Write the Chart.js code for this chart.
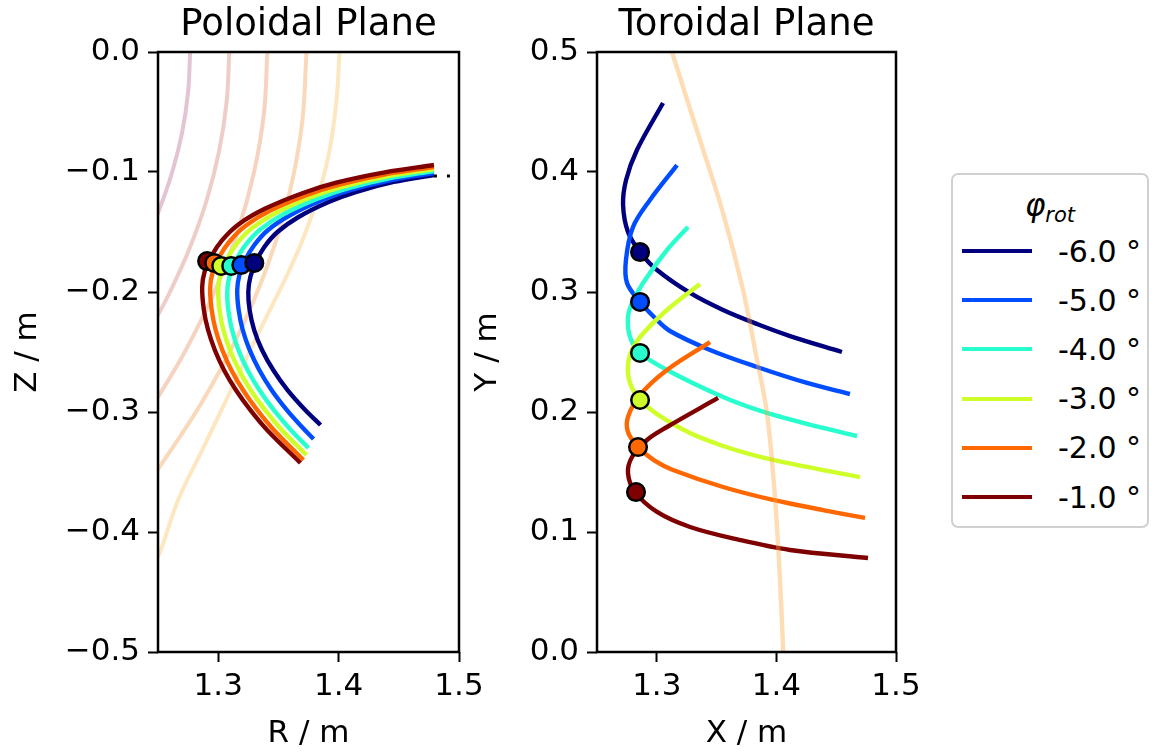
<!DOCTYPE html>
<html>
<head>
<meta charset="utf-8">
<script src="https://cdn.jsdelivr.net/npm/chart.js@4.4.1/dist/chart.umd.min.js"></script>
<style>
  body { margin: 0; background: #fff; width: 1160px; height: 756px; overflow: hidden; position: relative; font-family: 'DejaVu Sans', sans-serif; }
  canvas { position: absolute; top: 0; }
  #polCanvas { left: 0; }
  #torCanvas { left: 460px; }
  .legend { position: absolute; left: 951px; top: 173px; width: 194px; height: 351px; border: 2px solid #d0d0d0; border-radius: 7px; background: rgba(255,255,255,0.8); }
  .legend .ttl { position: absolute; left: 0; width: 100%; top: 12px; text-align: center; font-size: 31px; font-style: italic; color: #000; }
  .legend .ttl sub { font-size: 21px; vertical-align: -6px; }
  .legend .row { position: absolute; left: 0; height: 40px; display: flex; align-items: center; }
  .legend .sw { margin-left: 9px; width: 70px; height: 4px; }
  .legend .lbl { margin-left: 26px; font-size: 30px; color: #000; }
</style>
</head>
<body>
<canvas id="polCanvas" width="490" height="756"></canvas>
<canvas id="torCanvas" width="480" height="756"></canvas>
<div class="legend" id="legend"></div>
<script>
// rotation angles (legend order) and their jet colours
const angles = [-6, -5, -4, -3, -2, -1];
const jetColors = ['#00007f', '#004cff', '#29ffce', '#ceff29', '#ff6800', '#7f0000'];

// ticks
const rTicks = [1.3, 1.4, 1.5];
const zTicks = [0.0, -0.1, -0.2, -0.3, -0.4, -0.5];
const yTicks = [0.0, 0.1, 0.2, 0.3, 0.4, 0.5];

// poloidal plane trajectories (R, Z)
const polR_6 = [1.4792, 1.4458, 1.4142, 1.3917, 1.3667, 1.3492, 1.3383, 1.3313, 1.3267, 1.325, 1.3261, 1.3299, 1.3364, 1.3457, 1.3576, 1.3723, 1.385];
const polZ_6 = [-0.1025, -0.1083, -0.1167, -0.125, -0.1375, -0.15, -0.1625, -0.175, -0.1875, -0.2, -0.215, -0.2317, -0.2483, -0.265, -0.2817, -0.2983, -0.3108];
const polR_5 = [1.4792, 1.4438, 1.4103, 1.3865, 1.36, 1.3414, 1.33, 1.3224, 1.3176, 1.3158, 1.317, 1.3204, 1.3261, 1.3341, 1.3443, 1.3569, 1.368, 1.3792];
const polZ_5 = [-0.1008, -0.1067, -0.115, -0.1233, -0.1358, -0.1483, -0.1608, -0.1733, -0.1858, -0.1983, -0.215, -0.2317, -0.2483, -0.265, -0.2817, -0.2983, -0.3108, -0.3225];
const polR_4 = [1.4792, 1.4421, 1.4068, 1.3818, 1.3539, 1.3344, 1.3223, 1.3145, 1.3093, 1.3075, 1.3084, 1.3115, 1.3168, 1.3244, 1.3342, 1.3461, 1.3603, 1.375];
const polZ_4 = [-0.0992, -0.1053, -0.1138, -0.1224, -0.1353, -0.1483, -0.1613, -0.1742, -0.1871, -0.2, -0.215, -0.2317, -0.2483, -0.265, -0.2817, -0.2983, -0.315, -0.33];
const polR_3 = [1.4792, 1.4404, 1.4037, 1.3775, 1.3484, 1.3281, 1.3155, 1.3073, 1.3019, 1.3, 1.3011, 1.3043, 1.3097, 1.3173, 1.3269, 1.3388, 1.3528, 1.3733];
const polZ_3 = [-0.0975, -0.1036, -0.1122, -0.1208, -0.1337, -0.1467, -0.1596, -0.1725, -0.1854, -0.1983, -0.215, -0.2317, -0.2483, -0.265, -0.2817, -0.2983, -0.315, -0.3358];
const polR_2 = [1.4792, 1.439, 1.4008, 1.3737, 1.3436, 1.3225, 1.3094, 1.3008, 1.2953, 1.2933, 1.2946, 1.2979, 1.3034, 1.3109, 1.3206, 1.3323, 1.3462, 1.3708];
const polZ_2 = [-0.0958, -0.1019, -0.1105, -0.1191, -0.132, -0.145, -0.1579, -0.1708, -0.1838, -0.1967, -0.215, -0.2317, -0.2483, -0.265, -0.2817, -0.2983, -0.315, -0.34];
const polR_1 = [1.4792, 1.4383, 1.398, 1.3699, 1.3387, 1.3168, 1.3033, 1.2945, 1.2888, 1.2867, 1.2881, 1.2916, 1.2972, 1.3048, 1.3147, 1.3266, 1.3406, 1.3683];
const polZ_1 = [-0.0942, -0.1003, -0.1089, -0.1177, -0.1307, -0.1437, -0.1568, -0.1698, -0.1828, -0.1958, -0.215, -0.2317, -0.2483, -0.265, -0.2817, -0.2983, -0.315, -0.3425];
const polMarkR = [1.33, 1.3192, 1.3108, 1.3025, 1.2967, 1.2908];
const polMarkZ = [-0.1758, -0.1775, -0.1783, -0.1783, -0.1758, -0.1742];
// dotted continuation at the tip
const tipR = [1.4792, 1.52];
const tipZ = [-0.1033, -0.1033];

// flux surfaces in the poloidal plane
const fluxR1 = [1.2767, 1.275, 1.2701, 1.2618, 1.2503, 1.2393];
const fluxZ1 = [0.0, -0.0333, -0.0667, -0.1, -0.1333, -0.1583];
const fluxR2 = [1.3092, 1.307, 1.3006, 1.29, 1.275, 1.2599, 1.25, 1.2373];
const fluxZ2 = [0.0, -0.0417, -0.0833, -0.125, -0.1667, -0.2, -0.2192, -0.2417];
const fluxR3 = [1.3408, 1.3381, 1.3298, 1.3161, 1.2968, 1.2722, 1.25, 1.2363];
const fluxZ3 = [0.0, -0.05, -0.1, -0.15, -0.2, -0.25, -0.2875, -0.3083];
const fluxR4 = [1.3733, 1.3698, 1.3594, 1.342, 1.3178, 1.2866, 1.2496, 1.2362];
const fluxZ4 = [0.0, -0.0583, -0.1167, -0.175, -0.2333, -0.2917, -0.3483, -0.3667];
const fluxR5 = [1.4008, 1.3983, 1.3925, 1.3833, 1.3717, 1.3592, 1.345, 1.3267, 1.3067, 1.2867, 1.2667, 1.2517, 1.2433];
const fluxZ5 = [0.0, -0.04, -0.0817, -0.1192, -0.1525, -0.1817, -0.2108, -0.2483, -0.29, -0.3317, -0.3733, -0.4167, -0.4342];

// toroidal plane trajectories (X, Y)
const torX_6 = [1.3052, 1.2834, 1.2743, 1.2718, 1.2759, 1.286, 1.3002, 1.3278, 1.3554, 1.3838, 1.4114, 1.4548];
const torY_6 = [0.4575, 0.4183, 0.3933, 0.3725, 0.35, 0.3333, 0.3183, 0.2992, 0.285, 0.2733, 0.2633, 0.25];
const torX_5 = [1.3169, 1.2943, 1.2801, 1.2742, 1.2751, 1.286, 1.2985, 1.311, 1.3445, 1.3838, 1.4256, 1.4615];
const torY_5 = [0.4058, 0.3767, 0.3542, 0.3267, 0.3075, 0.2917, 0.2783, 0.2675, 0.2517, 0.2375, 0.2242, 0.215];
const torX_4 = [1.3261, 1.3085, 1.2885, 1.2793, 1.2759, 1.2776, 1.286, 1.3085, 1.3554, 1.3921, 1.439, 1.4674];
const torY_4 = [0.3542, 0.335, 0.3075, 0.2908, 0.2792, 0.2625, 0.2492, 0.235, 0.2125, 0.1992, 0.1867, 0.18];
const torX_3 = [1.3361, 1.3085, 1.286, 1.2776, 1.2759, 1.2793, 1.286, 1.3002, 1.3278, 1.3554, 1.3838, 1.4256, 1.4699];
const torY_3 = [0.3067, 0.285, 0.2625, 0.2475, 0.2325, 0.22, 0.21, 0.1983, 0.1825, 0.1717, 0.1633, 0.1542, 0.1458];
const torX_2 = [1.3445, 1.3085, 1.286, 1.2759, 1.2759, 1.2843, 1.2985, 1.3135, 1.3554, 1.3972, 1.439, 1.4741];
const torY_2 = [0.2583, 0.235, 0.2142, 0.1958, 0.1833, 0.1708, 0.1592, 0.1517, 0.1375, 0.1267, 0.1183, 0.1117];
const torX_1 = [1.3512, 1.3085, 1.2918, 1.2793, 1.2759, 1.2818, 1.3002, 1.3278, 1.3696, 1.4114, 1.4766];
const torY_1 = [0.2117, 0.1875, 0.1767, 0.1625, 0.1492, 0.1333, 0.1167, 0.1042, 0.0933, 0.085, 0.0783];
const torMarkX = [1.286, 1.286, 1.286, 1.286, 1.2843, 1.2826];
const torMarkY = [0.3333, 0.2917, 0.2492, 0.21, 0.1708, 0.1333];

// flux contour in the toroidal plane
const torFluxX = [1.31, 1.3127, 1.3361, 1.3554, 1.3721, 1.3838, 1.3921, 1.3988, 1.403, 1.4057, 1.406];
const torFluxY = [0.51, 0.5, 0.4267, 0.3658, 0.3017, 0.2433, 0.1992, 0.1292, 0.06, 0.0, -0.01];

const polR = [polR_6, polR_5, polR_4, polR_3, polR_2, polR_1];
const polZ = [polZ_6, polZ_5, polZ_4, polZ_3, polZ_2, polZ_1];
const torX = [torX_6, torX_5, torX_4, torX_3, torX_2, torX_1];
const torY = [torY_6, torY_5, torY_4, torY_3, torY_2, torY_1];
const fluxR = [fluxR1, fluxR2, fluxR3, fluxR4, fluxR5];
const fluxZ = [fluxZ1, fluxZ2, fluxZ3, fluxZ4, fluxZ5];
const fluxColors = ['rgba(160,60,110,0.3)', 'rgba(200,90,70,0.3)', 'rgba(225,110,50,0.3)', 'rgba(240,130,25,0.3)', 'rgba(245,175,50,0.3)'];

const FONT = 'DejaVu Sans';
const TICK_SIZE = 31;

function pts(xs, ys) {
    return xs.map((x, i) => ({ x: x, y: ys[i] }));
}

function fmt(v) {
    return v.toFixed(1).replace('-', '\u2212');
}

function lineSet(xs, ys, color, width, order) {
    return {
        data: pts(xs, ys), showLine: true, borderColor: color, backgroundColor: color,
        borderWidth: width, pointRadius: 0, tension: 0.35, order: order, clip: 0,
        borderCapStyle: 'butt', borderJoinStyle: 'round'
    };
}

function markerSet(x, y, color, order) {
    return {
        data: [{ x: x, y: y }], showLine: false, pointRadius: 8.8, pointBorderWidth: 2.5,
        pointBackgroundColor: color, pointBorderColor: '#000', order: order
    };
}

// title centred over the plot area, like matplotlib
const panelTitle = {
    id: 'panelTitle',
    afterDraw(chart, args, opts) {
        const { ctx, chartArea } = chart;
        ctx.save();
        ctx.font = '37px "' + FONT + '"';
        ctx.fillStyle = '#000';
        ctx.textAlign = 'center';
        ctx.textBaseline = 'alphabetic';
        ctx.fillText(opts.text, (chartArea.left + chartArea.right) / 2, chartArea.top - 17);
        ctx.restore();
    }
};

// all four spines
const frame = {
    id: 'frame',
    afterDatasetsDraw(chart) {
        const { ctx, chartArea } = chart;
        ctx.save();
        ctx.strokeStyle = '#000';
        ctx.lineWidth = 2.5;
        ctx.strokeRect(chartArea.left, chartArea.top, chartArea.right - chartArea.left, chartArea.bottom - chartArea.top);
        ctx.restore();
    }
};

function axis(min, max, ticks, title, isX, yWidth) {
    const a = {
        type: 'linear', min: min, max: max,
        afterBuildTicks: s => { s.ticks = ticks.map(v => ({ value: v })); },
        grid: { display: true, drawOnChartArea: false, drawTicks: true, tickLength: 10, tickWidth: 2, tickColor: '#000' },
        border: { display: false },
        ticks: { color: '#000', font: { family: FONT, size: TICK_SIZE }, padding: isX ? 6 : 8, autoSkip: false, maxRotation: 0, callback: v => fmt(v) },
        title: { display: true, text: title, color: '#000', font: { family: FONT, size: TICK_SIZE }, padding: isX ? { top: 0, bottom: 3 } : { top: 9, bottom: 0 } }
    };
    if (isX) a.afterFit = s => { s.height = 104; };
    else a.afterFit = s => { s.width = yWidth; };
    return a;
}

function options(title, xr, yr, xTitle, yTitle, yWidth, padRight) {
    return {
        responsive: false, animation: false, devicePixelRatio: 1,
        layout: { padding: { top: 52, right: padRight, left: 0, bottom: 0 } },
        plugins: { legend: { display: false }, tooltip: { enabled: false }, panelTitle: { text: title } },
        events: [],
        scales: {
            x: axis(xr[0], xr[1], rTicks, xTitle, true),
            y: axis(yr[0], yr[1], yr[2], yTitle, false, yWidth)
        }
    };
}

// poloidal datasets
const polSets = [];
fluxR.forEach((r, i) => polSets.push(lineSet(r, fluxZ[i], fluxColors[i], 4, 100)));
angles.forEach((a, i) => polSets.push(lineSet(polR[i], polZ[i], jetColors[i], 4.4, 20 - i)));
const dotted = lineSet(tipR, tipZ, '#000', 3, 10);
dotted.borderDash = [3, 10];
dotted.tension = 0;
polSets.push(dotted);
angles.forEach((a, i) => polSets.push(markerSet(polMarkR[i], polMarkZ[i], jetColors[i], i)));

new Chart(document.getElementById('polCanvas'), {
    type: 'scatter',
    data: { datasets: polSets },
    options: options('Poloidal Plane', [1.25, 1.5], [-0.5, 0.0, zTicks], 'R / m', 'Z / m', 158, 31),
    plugins: [panelTitle, frame]
});

// toroidal datasets
const torSets = [];
torSets.push(lineSet(torFluxX, torFluxY, 'rgba(252,165,60,0.38)', 4.4, -1));
angles.forEach((a, i) => torSets.push(lineSet(torX[i], torY[i], jetColors[i], 4.4, 20 - i)));
angles.forEach((a, i) => torSets.push(markerSet(torMarkX[i], torMarkY[i], jetColors[i], i)));

new Chart(document.getElementById('torCanvas'), {
    type: 'scatter',
    data: { datasets: torSets },
    options: options('Toroidal Plane', [1.25, 1.5], [0.0, 0.5, yTicks], 'X / m', 'Y / m', 137, 44),
    plugins: [panelTitle, frame]
});

// legend
const legend = document.getElementById('legend');
legend.innerHTML = '<div class="ttl">\u03c6<sub>rot</sub></div>';
angles.forEach((a, i) => {
    const row = document.createElement('div');
    row.className = 'row';
    row.style.top = (76 - 20 + i * 49.2) + 'px';
    row.innerHTML = '<span class="sw" style="background:' + jetColors[i] + '"></span><span class="lbl">' + a.toFixed(1) + ' \u00b0</span>';
    legend.appendChild(row);
});
</script>
</body>
</html>
